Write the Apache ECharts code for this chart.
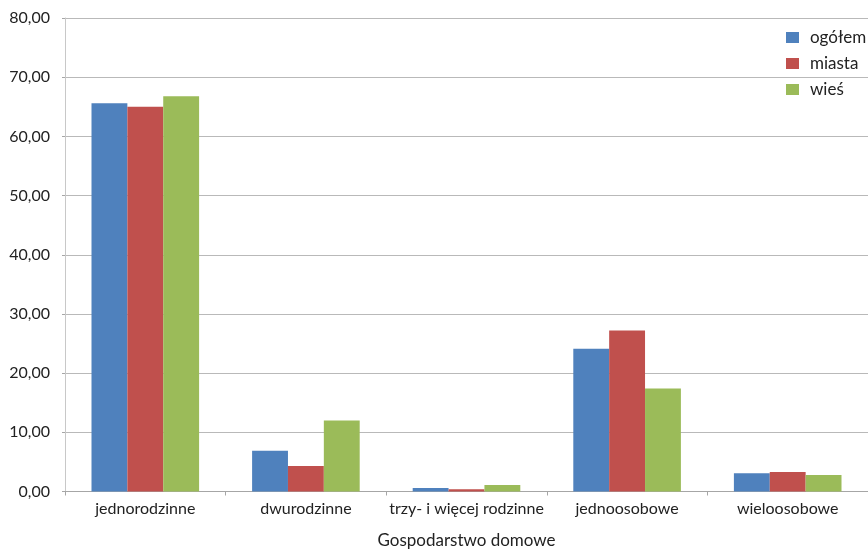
<!DOCTYPE html>
<html>
<head>
<meta charset="utf-8">
<script src="https://cdn.jsdelivr.net/npm/echarts@6/dist/echarts.min.js"></script>
<style>
  html, body { margin: 0; padding: 0; background: #fff; }
  #chart { width: 868px; height: 551px; }
</style>
</head>
<body>
<div id="chart"></div>
<script>
// Household types (percent shares)
const categories = ['jednorodzinne', 'dwurodzinne', 'trzy- i więcej rodzinne', 'jednoosobowe', 'wieloosobowe'];
const seriesNames = ['ogółem', 'miasta', 'wieś'];
const ogolem = [65.6, 6.9, 0.6, 24.1, 3.1];
const miasta = [65.0, 4.3, 0.4, 27.2, 3.3];
const wies = [66.8, 12.0, 1.1, 17.4, 2.8];
const colors = ['#4F81BD', '#C0504D', '#9BBB59'];

const FONT = 'Lato, "Open Sans", sans-serif';
const chart = echarts.init(document.getElementById('chart'), null, { renderer: 'canvas' });

const values = [ogolem, miasta, wies];
chart.setOption({
  animation: false,
  color: colors,
  textStyle: { fontFamily: FONT },
  legend: {
    orient: 'vertical',
    left: 781,
    top: 24,
    itemWidth: 13,
    itemHeight: 11,
    itemGap: 9,
    icon: 'rect',
    textStyle: { fontFamily: FONT, fontSize: 17, lineHeight: 17, color: '#222', padding: [0, 0, 0, 6] },
    data: seriesNames
  },
  grid: { left: 65, right: 0, top: 18, bottom: 59.5, containLabel: false, outerBoundsMode: 'none' },
  xAxis: {
    type: 'category',
    data: categories,
    name: 'Gospodarstwo domowe',
    nameLocation: 'middle',
    nameGap: 41,
    nameTextStyle: { fontFamily: FONT, fontSize: 17, color: '#222' },
    axisLine: { lineStyle: { color: '#a6a6a6', width: 1 } },
    axisTick: { show: true, length: 4, lineStyle: { color: '#a6a6a6' } },
    axisLabel: { fontFamily: FONT, fontSize: 16, color: '#222', margin: 9, interval: 0 }
  },
  yAxis: {
    type: 'value',
    min: 0,
    max: 80,
    interval: 10,
    axisLine: { show: true, lineStyle: { color: '#c8c8c8', width: 1 } },
    axisTick: { show: true, length: 3, lineStyle: { color: '#a6a6a6' } },
    splitLine: { lineStyle: { color: '#b9b9b9', width: 1.2 } },
    axisLabel: {
      fontFamily: FONT,
      fontSize: 16,
      color: '#222',
      margin: 15,
      formatter: v => v.toFixed(2).replace('.', ',')
    }
  },
  series: seriesNames.map((name, i) => ({
    name,
    type: 'bar',
    data: values[i],
    barGap: '0%',
    barCategoryGap: '33%',
    itemStyle: { color: colors[i] }
  }))
});
</script>
</body>
</html>
